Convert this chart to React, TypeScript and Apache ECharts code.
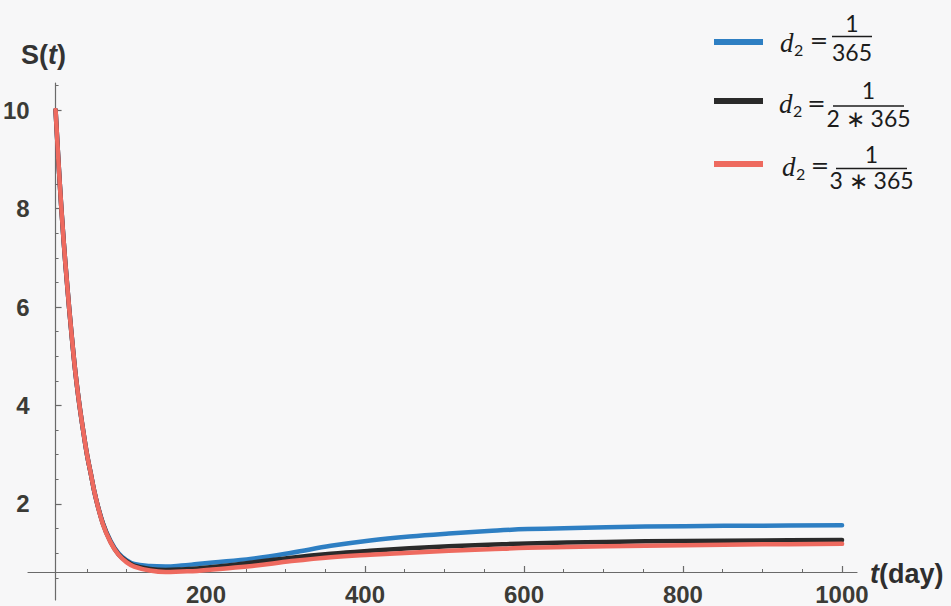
import { useEffect, useRef } from "react";
import * as echarts from "echarts";

// time (days)
const T = [0, 5, 10, 15, 20, 25, 30, 35, 40, 45, 50, 60, 70, 80, 90, 100, 120, 140, 160, 180, 200, 250, 300, 350, 400, 450, 500, 550, 600, 700, 800, 900, 1000];

// S(t) for the three values of d2
const S_365 = [10, 8.6, 7.4, 6.4, 5.5, 4.7, 4.05, 3.5, 3.0, 2.6, 2.2, 1.62, 1.25, 1.0, 0.86, 0.78, 0.74, 0.73, 0.75, 0.78, 0.81, 0.89, 1.01, 1.15, 1.26, 1.34, 1.4, 1.45, 1.49, 1.53, 1.55, 1.56, 1.57];
const S_2X365 = [10, 8.6, 7.4, 6.4, 5.5, 4.7, 4.05, 3.5, 3.0, 2.6, 2.2, 1.61, 1.23, 0.98, 0.84, 0.75, 0.68, 0.66, 0.67, 0.69, 0.72, 0.81, 0.91, 0.99, 1.05, 1.1, 1.14, 1.17, 1.2, 1.23, 1.25, 1.26, 1.27];
const S_3X365 = [10, 8.6, 7.4, 6.4, 5.5, 4.7, 4.05, 3.5, 3.0, 2.6, 2.2, 1.6, 1.22, 0.97, 0.82, 0.73, 0.65, 0.62, 0.63, 0.64, 0.67, 0.74, 0.84, 0.92, 0.97, 1.01, 1.05, 1.08, 1.11, 1.14, 1.16, 1.18, 1.19];

const X_MAJOR = [200, 400, 600, 800, 1000];
const X_MINOR = [50, 100, 150, 250, 300, 350, 450, 500, 550, 650, 700, 750, 850, 900, 950];
const Y_MAJOR = [2, 4, 6, 8, 10];
const Y_MINOR = [0.5, 1, 1.5, 2.5, 3, 3.5, 4.5, 5, 5.5, 6.5, 7, 7.5, 8.5, 9, 9.5, 10.5];

const SERIES_NAMES = ["d2 = 1/365", "d2 = 1/(2*365)", "d2 = 1/(3*365)"];
const DENOMINATORS = ["365", "2 ∗ 365", "3 ∗ 365"];
const COLORS = ["#2e7fc3", "#2a2a2a", "#ee6a5f"];

const AXIS = "#6a6a6a";
const LABEL = "#3b3b36";
const TICK_FONT = {
  fontFamily: "Liberation Sans",
  fontWeight: "bold" as const,
  fontSize: 24,
  color: LABEL,
  formatter: (v: number) => String(v),
};

// legend layout: swatch centre, "=" centre, fraction bar, numerator/denominator centres, x positions
const LEGEND_ROWS = [
  { sw: 42, eq: 40, bar: 36.5, num: 23, den: 51.5, d: 43, dx: 780, eqx: 819, bx0: 832, bx1: 872 },
  { sw: 101, eq: 103, bar: 106, num: 90, den: 117.5, d: 104, dx: 779, eqx: 816.5, bx0: 833, bx1: 904 },
  { sw: 164, eq: 165, bar: 168.5, num: 154, den: 180, d: 167, dx: 782, eqx: 820, bx0: 836, bx1: 907 },
];

function legendGraphics() {
  const out: any[] = [];
  LEGEND_ROWS.forEach((r, i) => {
    const ink = "#1c1c1c";
    const cx = (r.bx0 + r.bx1) / 2;
    out.push(
      { type: "rect", shape: { x: 714, y: r.sw - 3, width: 49, height: 6 }, style: { fill: COLORS[i] } },
      { type: "text", x: r.dx, y: r.d, style: { text: "d", font: 'italic 27px "Liberation Serif"', fill: ink, verticalAlign: "middle" } },
      { type: "text", x: r.dx + 14, y: r.d + 6, style: { text: "2", font: '16px "Lato"', fill: ink, verticalAlign: "middle" } },
      { type: "text", x: r.eqx, y: r.eq, style: { text: "=", font: '22px "DejaVu Serif"', fill: ink, align: "center", verticalAlign: "middle" } },
      { type: "line", shape: { x1: r.bx0, y1: r.bar, x2: r.bx1, y2: r.bar }, style: { stroke: ink, lineWidth: 1.3 } },
      { type: "text", x: cx, y: r.num, style: { text: "1", font: '23px "Lato"', fill: ink, align: "center", verticalAlign: "middle" } },
      { type: "text", x: cx, y: r.den, style: { text: DENOMINATORS[i], font: '23px "Lato"', fill: ink, align: "center", verticalAlign: "middle" } }
    );
  });
  return out;
}

export default function App() {
  const ref = useRef<HTMLDivElement>(null);

  useEffect(() => {
    if (!ref.current) return;
    const chart = echarts.init(ref.current, undefined, { renderer: "svg" });
    const curves = [S_365, S_2X365, S_3X365];

    chart.setOption({
      animation: false,
      backgroundColor: "#f7f7f8",
      grid: [
        { left: 28, top: 83, width: 829, height: 517 },
        { left: 28, top: 300, width: 829, height: 272.5 },
      ],
      xAxis: [
        { type: "value", gridIndex: 0, min: -24, max: 1019, show: false },
        {
          type: "value",
          gridIndex: 1,
          min: -24,
          max: 1019,
          position: "bottom",
          axisLine: { show: true, onZero: false, lineStyle: { color: AXIS, width: 1.2 } },
          axisTick: { show: true, inside: true, length: 6, customValues: X_MAJOR, lineStyle: { color: AXIS, width: 1.2 } },
          axisLabel: { show: true, customValues: X_MAJOR, margin: 10, ...TICK_FONT },
          splitLine: { show: false },
        },
        {
          type: "value",
          gridIndex: 1,
          min: -24,
          max: 1019,
          position: "bottom",
          axisLine: { show: false, onZero: false },
          axisTick: { show: true, inside: true, length: 3, customValues: X_MINOR, lineStyle: { color: AXIS, width: 1 } },
          axisLabel: { show: false },
          splitLine: { show: false },
        },
      ],
      yAxis: [
        {
          type: "value",
          gridIndex: 0,
          min: 0.05,
          max: 10.55,
          position: "left",
          axisLine: { show: true, onZero: true, onZeroAxisIndex: 0, lineStyle: { color: AXIS, width: 1.2 } },
          axisTick: { show: true, inside: true, length: 6, customValues: Y_MAJOR, lineStyle: { color: AXIS, width: 1.2 } },
          axisLabel: { show: true, customValues: Y_MAJOR, margin: 7, ...TICK_FONT },
          splitLine: { show: false },
        },
        {
          type: "value",
          gridIndex: 0,
          min: 0.05,
          max: 10.55,
          position: "left",
          axisLine: { show: false, onZero: true, onZeroAxisIndex: 0 },
          axisTick: { show: true, inside: true, length: 3, customValues: Y_MINOR, lineStyle: { color: AXIS, width: 1 } },
          axisLabel: { show: false },
          splitLine: { show: false },
        },
        { type: "value", gridIndex: 1, min: 0, max: 1, show: false },
      ],
      series: curves.map((vals, i) => ({
        name: SERIES_NAMES[i],
        type: "line",
        xAxisIndex: 0,
        yAxisIndex: 0,
        data: T.map((t, k) => [t, vals[k]]),
        showSymbol: false,
        smooth: 0.4,
        clip: false,
        lineStyle: { color: COLORS[i], width: 4.5, join: "round", cap: "round" },
        z: 2 + i,
      })),
      graphic: [
        {
          type: "text",
          x: 21,
          y: 55,
          style: {
            text: "{s|S}{p|(}{t|t}{p|)}",
            verticalAlign: "middle",
            rich: {
              s: { font: 'bold 27px "Liberation Sans"', fill: "#333" },
              p: { font: 'bold 27px "Liberation Sans"', fill: "#333" },
              t: { font: 'italic bold 27px "Liberation Sans"', fill: "#333" },
            },
          },
        },
        {
          type: "text",
          x: 870,
          y: 574,
          style: {
            text: "{t|t}{p|(day)}",
            verticalAlign: "middle",
            rich: {
              t: { font: 'italic bold 27px "Liberation Sans"', fill: "#2e2e2e" },
              p: { font: 'bold 27px "Liberation Sans"', fill: "#2e2e2e" },
            },
          },
        },
        ...legendGraphics(),
      ],
    });

    return () => chart.dispose();
  }, []);

  return <div ref={ref} style={{ position: "fixed", left: 0, top: 0, width: 951, height: 606 }} />;
}
